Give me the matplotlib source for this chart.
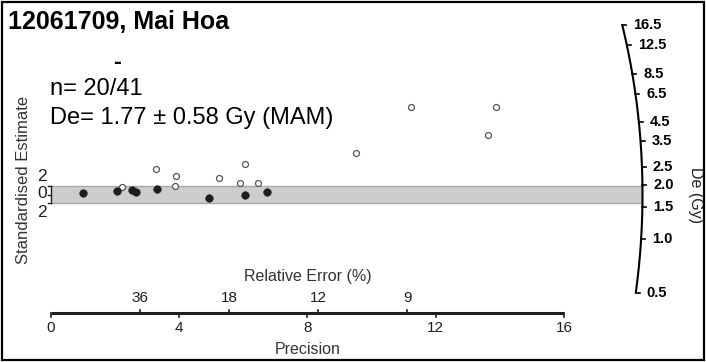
import numpy as np
import matplotlib
matplotlib.use('Agg')
import matplotlib.pyplot as plt
from matplotlib.patches import Rectangle

plt.rcParams['font.family'] = ['Liberation Sans', 'DejaVu Sans']

# ---------------- data ----------------
title = "12061709, Mai Hoa"
dash_text = "-"
n_text = "n= 20/41"
de_text = "De= 1.77 \u00b1 0.58 Gy (MAM)"
central_de = 1.77

# filled points (precision, standardised estimate)
filled_prec = [1.00, 2.07, 2.54, 2.65, 3.32, 4.94, 6.05, 6.74]
filled_std = [0.28, 0.94, 1.06, 0.54, 1.22, -0.89, -0.12, 0.64]
# open points
open_prec = [2.22, 3.29, 3.91, 3.87, 5.25, 6.04, 5.90, 6.47, 9.51, 11.22, 13.64, 13.89]
open_std = [1.88, 5.93, 4.40, 2.00, 3.88, 7.18, 2.78, 2.78, 9.84, 20.5, 14.0, 20.5]

prec_ticks = [0, 4, 8, 12, 16]
relerr_ticks = [36, 18, 12, 9]
de_ticks = [0.5, 1.0, 1.5, 2.0, 2.5, 3.5, 4.5, 6.5, 8.5, 12.5, 16.5]
std_ticks = [2, 0, -2]
std_tick_labels = ["2", "0", "2"]

# ---------------- layout ----------------
W, H = 706, 362
X0PX, SX = 51.0, 32.06     # pixel of precision 0, px per precision unit
Y0PX, SY = 194.5, 4.25     # pixel of centre line, px per standardised unit
R_ARC, C_ARC = 18.45, 0.12

fig = plt.figure(figsize=(W / 100, H / 100), dpi=100)
ax = fig.add_axes([0, 0, 1, 1])
ax.set_xlim(-X0PX / SX, (W - X0PX) / SX)
ax.set_ylim((Y0PX - H) / SY, Y0PX / SY)
ax.axis('off')


def px(x, y):
    return (x - X0PX) / SX, (Y0PX - y) / SY


dark = '#1e1e1e'

# title and annotations
ax.text(*px(8, 29), title, fontsize=18, fontweight='bold', ha='left', va='baseline', color='black')
ax.text(*px(117, 62), dash_text, fontsize=17, fontweight='bold', ha='center', va='center')
ax.text(*px(50, 95), n_text, fontsize=17, ha='left', va='baseline')
ax.text(*px(50, 124), de_text, fontsize=17, ha='left', va='baseline')

# +-2 band
ax.fill_between([0, R_ARC], -2, 2, facecolor='#cdcdcd', edgecolor='none', zorder=1)
for yb in (-2, 2):
    ax.plot([0, R_ARC], [yb, yb], color='#a8a8a8', lw=1.0, zorder=1.5)

# standardised estimate bracket
ax.plot([0, 0], [min(std_ticks), max(std_ticks)], color=dark, lw=1.0, zorder=2)
for t in std_ticks:
    ax.plot([0, -3 / SX], [t, t], color=dark, lw=1.0, zorder=2)
for t, lab, ypx in zip(std_ticks, std_tick_labels, [176, 193.5, 212]):
    ax.text(px(42, 0)[0], px(0, ypx)[1], lab, fontsize=12.5, ha='center', va='center', color=dark)
ax.text(*px(24, 180), "Standardised Estimate", fontsize=12, rotation=90,
        ha='center', va='center', color='#333333')

# points
ax.plot(open_prec, open_std, 'o', ms=4.3, mfc='white', mec='#555555', mew=0.9, zorder=3)
ax.plot(filled_prec, filled_std, 'o', ms=5.4, mfc=dark, mec=dark, mew=0.5, zorder=4)

# precision axis
yax = px(0, 313)[1]
ax.plot([prec_ticks[0], prec_ticks[-1]], [yax, yax], color=dark, lw=2.2, solid_capstyle='butt')
for t in prec_ticks:
    ax.plot([t, t], [yax, yax - 3.5 / SY], color=dark, lw=1.2)
    ax.text(t, px(0, 328)[1], str(t), fontsize=11, ha='center', va='center', color=dark)
for r in relerr_ticks:
    p = 100.0 / r
    ax.plot([p, p], [yax, yax + 3.5 / SY], color=dark, lw=1.2)
    ax.text(p, px(0, 298)[1], str(r), fontsize=11, ha='center', va='center', color=dark)
ax.text(8, px(0, 277)[1], "Relative Error (%)", fontsize=11.5, ha='center', va='center', color='#333333')
ax.text(8, px(0, 349)[1], "Precision", fontsize=11.5, ha='center', va='center', color='#333333')

# De arc
z0 = np.log(central_de)
d = np.linspace(np.log(min(de_ticks)) - z0, np.log(max(de_ticks)) - z0, 300)
xa = R_ARC / np.sqrt(1 + (C_ARC * d) ** 2)
ax.plot(xa, d * xa, color='black', lw=1.5, zorder=5)
for v in de_ticks:
    dd = np.log(v) - z0
    xt = R_ARC / np.sqrt(1 + (C_ARC * dd) ** 2)
    yt = dd * xt
    ax.plot([xt, xt + 4 / SX], [yt, yt], color='black', lw=1.2, zorder=5)
    ax.text(xt + 11 / SX, yt, f"{v:.1f}", fontsize=10.5, fontweight='bold', ha='left', va='center')
ax.text(*px(695, 195), "De (Gy)", fontsize=11.5, rotation=270, ha='center', va='center', color='#222222')

# frame
fig.patches.append(Rectangle((2 / W, 2 / H), 1 - 4 / W, 1 - 4 / H, transform=fig.transFigure,
                             fill=False, lw=1.6, edgecolor='black'))

fig.savefig('out.png', dpi=100)
